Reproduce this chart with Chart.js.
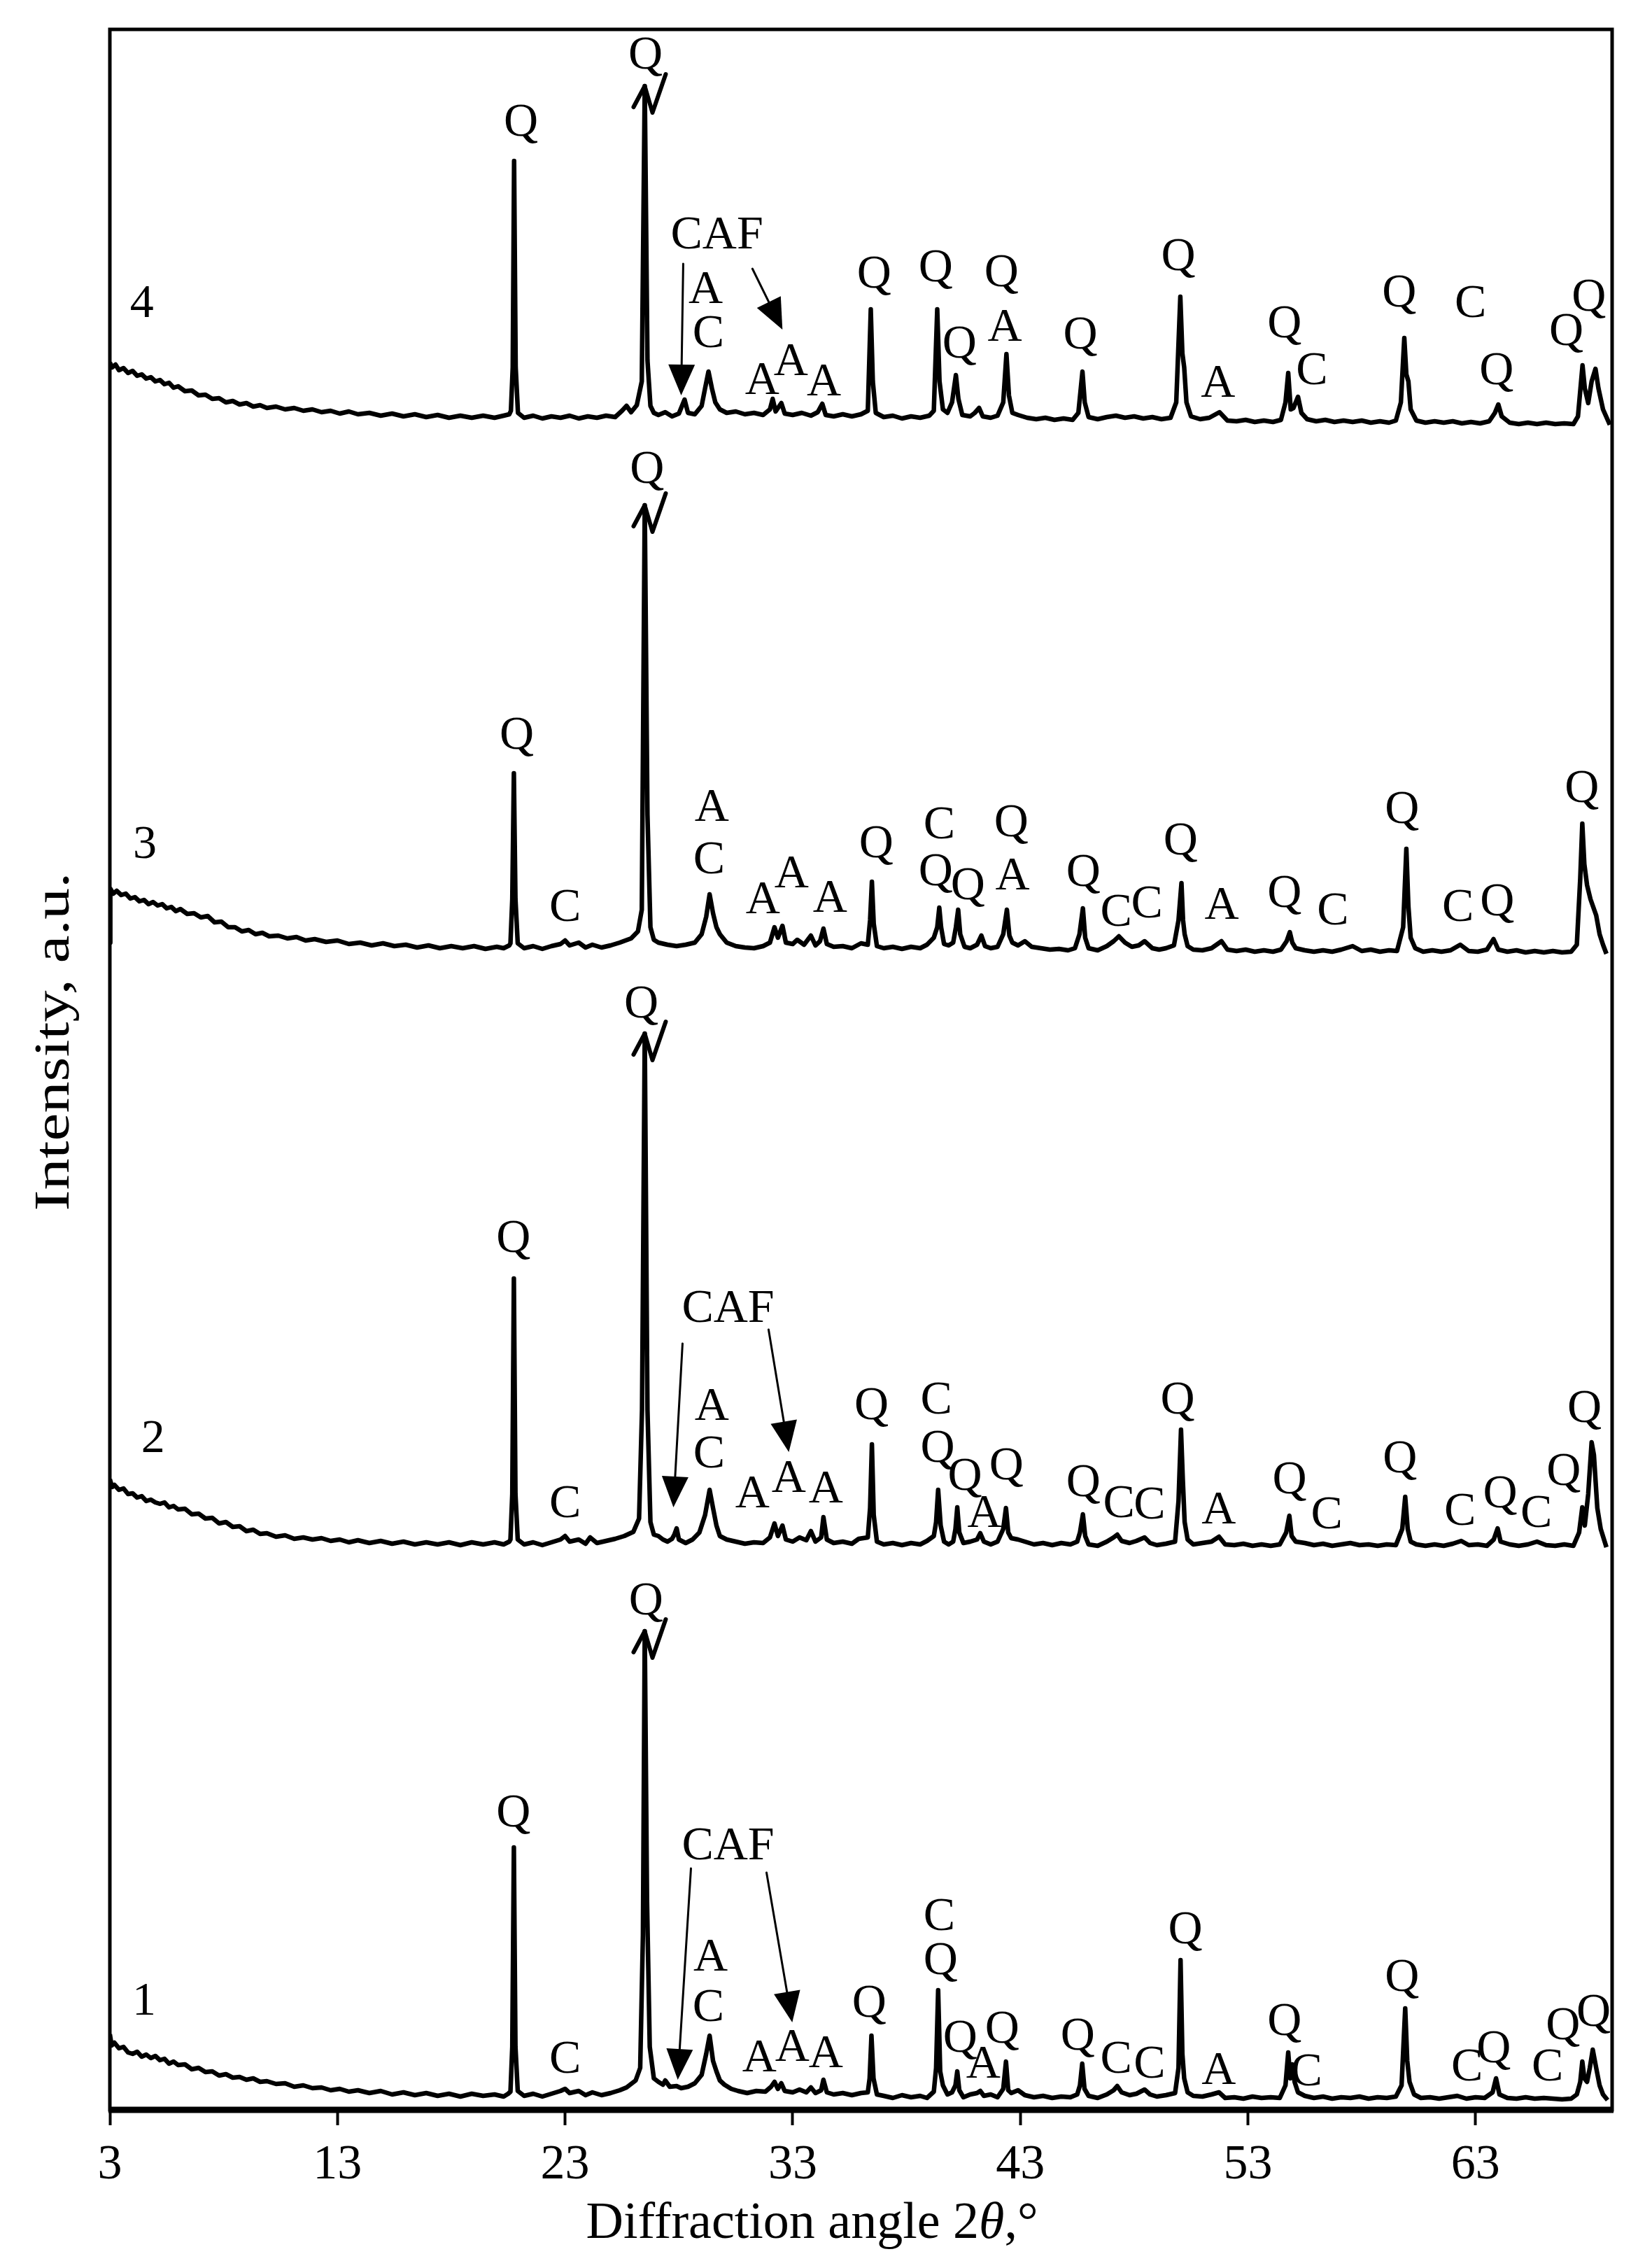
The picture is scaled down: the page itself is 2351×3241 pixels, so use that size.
<!DOCTYPE html>
<html>
<head>
<meta charset="utf-8">
<title>XRD patterns</title>
<script src="https://cdn.jsdelivr.net/npm/chart.js@4.4.0/dist/chart.umd.min.js"></script>
<style>
  body { margin: 0; background: #fff; }
  canvas { display: block; }
</style>
</head>
<body>
<canvas id="xrd" width="2351" height="3241"></canvas>
<script>
// x axis: diffraction angle 2theta, degrees
const tickValues = [3, 13, 23, 33, 43, 53, 63];

// patterns: [2theta, intensity a.u.] (curves already stacked)
const pattern1 = [
  [3.0,108],[3.08,92],[3.2,96],[3.4,88],[3.6,90],[3.8,82],[4.0,80],[4.2,83],[4.4,76],[4.6,79],[4.8,74],[5.0,77],
  [5.2,71],[5.4,73],[5.6,66],[5.8,69],[6.0,64],[6.3,65],[6.6,58],[6.9,60],[7.2,54],[7.5,55],[7.8,49],[8.1,51],
  [8.4,46],[8.7,47],[9.0,43],[9.3,45],[9.6,40],[9.9,41],[10.3,37],[10.7,38],[11.1,33],[11.5,35],[11.9,31],[12.3,32],
  [12.7,28],[13.1,30],[13.5,26],[13.9,28],[14.4,24],[14.9,27],[15.4,22],[15.9,25],[16.4,21],[16.9,24],[17.4,20],
  [17.9,23],[18.4,19],[18.9,23],[19.4,20],[19.9,22],[20.3,19],[20.5,23],
  [20.6,26],[20.68,90],[20.75,375],[20.82,90],[20.92,27],
  [21.2,20],[21.6,23],[22.0,19],[22.4,23],[22.8,27],[23.0,30],[23.2,24],[23.6,27],[23.9,21],[24.2,25],[24.6,21],
  [25.0,24],[25.4,28],[25.7,32],[26.1,42],[26.3,60],[26.42,250],[26.5,684],[26.6,300],[26.72,90],[26.9,45],
  [27.1,40],[27.3,36],[27.4,42],[27.6,33],[27.9,34],[28.1,31],[28.4,33],[28.7,38],[29.0,50],[29.2,80],[29.35,106],
  [29.5,70],[29.65,55],[29.8,42],[30.0,36],[30.3,30],[30.6,27],[31.0,24],[31.4,27],[31.8,26],[32.05,33],[32.2,40],
  [32.35,30],[32.5,38],[32.65,27],[33.0,25],[33.3,29],[33.6,25],[33.8,32],[34.0,24],[34.25,28],[34.35,43],[34.5,25],
  [34.8,22],[35.2,24],[35.6,21],[36.0,24],[36.3,25],[36.38,45],[36.46,106],[36.55,45],[36.7,22],
  [37.0,20],[37.4,17],[37.8,21],[38.2,18],[38.6,20],[38.9,17],[39.2,26],[39.3,60],[39.39,171],[39.48,55],[39.6,35],
  [39.8,22],[40.0,25],[40.15,35],[40.23,55],[40.32,28],[40.5,18],[40.8,22],[41.1,24],[41.24,27],[41.4,20],[41.7,22],
  [42.0,18],[42.25,30],[42.37,69],[42.47,28],[42.6,24],[42.9,28],[43.2,21],[43.6,18],[44.0,20],[44.4,17],[44.8,19],
  [45.2,18],[45.5,22],[45.62,35],[45.72,66],[45.82,30],[46.0,20],[46.4,17],[46.8,22],[47.1,28],[47.26,34],[47.45,25],
  [47.8,21],[48.1,23],[48.46,29],[48.7,22],[49.0,19],[49.4,21],[49.8,24],[49.95,60],[50.04,214],[50.12,80],[50.2,45],
  [50.35,25],[50.6,20],[51.0,19],[51.4,22],[51.73,25],[52.0,17],[52.4,18],[52.8,16],[53.2,19],[53.6,17],[54.0,18],
  [54.4,17],[54.65,35],[54.77,82],[54.86,45],[54.95,65],[55.05,40],[55.2,25],[55.5,20],[55.9,17],[56.3,19],[56.7,16],
  [57.1,18],[57.5,17],[57.9,19],[58.3,16],[58.7,18],[59.1,17],[59.5,19],[59.75,35],[59.91,145],[60.0,70],[60.1,40],
  [60.3,22],[60.6,17],[61.0,18],[61.4,16],[61.8,18],[62.2,20],[62.6,16],[63.0,18],[63.4,17],[63.75,25],[63.9,45],
  [64.05,22],[64.4,17],[64.8,16],[65.2,18],[65.6,16],[66.0,17],[66.4,16],[66.8,15],[67.2,16],[67.45,22],[67.6,40],
  [67.69,69],[67.78,45],[67.9,40],[68.02,60],[68.15,86],[68.3,60],[68.45,35],[68.6,22],[68.8,14]
];

const pattern2 = [
  [3.0,901],[3.1,890],[3.2,893],[3.4,886],[3.6,888],[3.8,880],[4.0,881],[4.2,875],[4.4,877],[4.6,870],[4.8,872],
  [5.0,868],[5.2,866],[5.4,868],[5.6,861],[5.8,863],[6.0,858],[6.3,859],[6.6,851],[6.9,852],[7.2,845],[7.5,846],
  [7.8,838],[8.1,840],[8.4,833],[8.7,834],[9.0,827],[9.3,829],[9.6,823],[9.9,824],[10.3,819],[10.7,821],[11.1,816],
  [11.5,818],[11.9,815],[12.3,817],[12.7,813],[13.1,815],[13.5,811],[13.9,814],[14.4,810],[14.9,813],[15.4,809],
  [15.9,812],[16.4,808],[16.9,811],[17.4,808],[17.9,811],[18.4,807],[18.9,811],[19.4,808],[19.9,811],[20.3,808],
  [20.55,812],[20.6,815],[20.68,880],[20.75,1188],[20.82,880],[20.92,815],
  [21.2,808],[21.6,811],[22.0,807],[22.4,811],[22.8,815],[23.0,820],[23.2,812],[23.6,815],[23.9,809],[24.1,818],
  [24.4,810],[24.8,813],[25.2,816],[25.6,820],[26.0,826],[26.25,845],[26.38,1000],[26.5,1538],[26.62,1000],
  [26.75,840],[26.9,822],[27.1,820],[27.3,815],[27.5,812],[27.7,816],[27.8,822],[27.9,831],[28.0,815],[28.3,810],
  [28.6,815],[28.9,825],[29.15,850],[29.35,886],[29.5,860],[29.65,835],[29.8,820],[30.1,815],[30.5,812],[30.9,809],
  [31.3,811],[31.7,810],[32.0,818],[32.2,838],[32.35,820],[32.55,835],[32.7,815],[33.0,812],[33.3,818],[33.6,814],
  [33.8,827],[34.0,812],[34.25,818],[34.35,847],[34.5,815],[34.8,810],[35.2,812],[35.6,809],[35.9,816],[36.3,818],
  [36.4,860],[36.48,951],[36.56,850],[36.7,812],[37.0,808],[37.4,810],[37.8,807],[38.2,810],[38.6,808],[38.9,813],
  [39.2,820],[39.3,840],[39.39,886],[39.5,835],[39.65,812],[39.85,808],[40.05,812],[40.15,830],[40.23,861],
  [40.32,825],[40.5,810],[40.8,812],[41.1,815],[41.24,824],[41.4,812],[41.7,808],[42.0,812],[42.25,830],[42.37,860],
  [42.47,825],[42.6,817],[42.9,815],[43.2,812],[43.6,808],[44.0,810],[44.4,807],[44.8,810],[45.2,808],[45.5,812],
  [45.62,825],[45.75,851],[45.85,820],[46.0,808],[46.4,806],[46.8,812],[47.1,818],[47.26,822],[47.45,813],[47.8,810],
  [48.1,813],[48.46,818],[48.7,810],[49.0,807],[49.4,809],[49.8,812],[49.95,870],[50.06,972],[50.14,900],[50.22,840],
  [50.35,815],[50.6,808],[51.0,810],[51.4,812],[51.73,819],[52.0,808],[52.4,807],[52.8,809],[53.2,806],[53.6,808],
  [54.0,806],[54.4,808],[54.68,825],[54.82,849],[54.92,820],[55.1,812],[55.5,810],[55.9,807],[56.3,809],[56.7,806],
  [57.1,808],[57.5,810],[57.9,807],[58.3,808],[58.7,806],[59.1,808],[59.5,807],[59.78,830],[59.91,876],[60.02,830],
  [60.15,812],[60.4,808],[60.8,806],[61.2,808],[61.6,806],[62.0,809],[62.37,813],[62.7,807],[63.1,808],[63.5,806],
  [63.8,815],[63.97,831],[64.1,812],[64.5,808],[64.9,806],[65.3,808],[65.7,812],[66.1,807],[66.5,806],[66.9,808],
  [67.3,806],[67.55,825],[67.69,861],[67.8,835],[67.95,880],[68.1,954],[68.2,936],[68.35,860],[68.5,830],[68.75,804]
];

const pattern3 = [
  [3.0,1668],[3.02,1745],[3.15,1738],[3.3,1742],[3.5,1736],[3.7,1738],[3.9,1731],[4.1,1733],[4.3,1727],[4.5,1729],
  [4.7,1723],[4.9,1726],[5.1,1721],[5.3,1723],[5.5,1717],[5.7,1719],[5.9,1713],[6.1,1716],[6.4,1709],[6.7,1710],
  [7.0,1704],[7.3,1706],[7.6,1697],[7.9,1698],[8.2,1690],[8.5,1690],[8.8,1684],[9.1,1686],[9.4,1680],[9.7,1682],
  [10.0,1677],[10.4,1678],[10.8,1674],[11.2,1676],[11.6,1671],[12.0,1673],[12.5,1669],[13.0,1671],[13.5,1666],
  [14.0,1668],[14.5,1664],[15.0,1667],[15.5,1663],[16.0,1665],[16.5,1661],[17.0,1664],[17.5,1660],[18.0,1663],
  [18.5,1660],[19.0,1663],[19.5,1659],[20.0,1662],[20.3,1660],[20.55,1664],
  [20.6,1667],[20.68,1730],[20.75,1910],[20.82,1730],[20.92,1667],
  [21.2,1660],[21.6,1663],[22.0,1659],[22.4,1663],[22.8,1666],[23.0,1671],[23.2,1664],[23.6,1668],[23.9,1661],
  [24.2,1665],[24.6,1661],[25.0,1664],[25.4,1668],[25.9,1674],[26.2,1684],[26.37,1715],[26.5,2293],[26.62,1850],
  [26.75,1690],[26.9,1672],[27.1,1668],[27.5,1665],[27.9,1663],[28.3,1665],[28.7,1668],[29.0,1680],[29.2,1705],
  [29.35,1737],[29.5,1710],[29.65,1690],[29.8,1680],[30.1,1668],[30.5,1663],[30.9,1661],[31.3,1660],[31.7,1663],
  [32.0,1668],[32.2,1690],[32.35,1675],[32.55,1692],[32.7,1668],[33.0,1666],[33.2,1672],[33.5,1665],[33.8,1678],
  [34.0,1664],[34.2,1670],[34.35,1688],[34.5,1666],[34.8,1662],[35.2,1663],[35.6,1660],[36.0,1667],[36.3,1665],
  [36.4,1700],[36.48,1755],[36.56,1695],[36.7,1663],[37.0,1660],[37.4,1662],[37.8,1659],[38.2,1662],[38.6,1660],
  [38.9,1665],[39.2,1675],[39.35,1690],[39.44,1718],[39.52,1690],[39.65,1666],[39.85,1664],[40.05,1668],[40.17,1690],
  [40.27,1715],[40.36,1680],[40.55,1662],[40.8,1660],[41.1,1665],[41.29,1678],[41.45,1663],[41.7,1660],[42.0,1662],
  [42.25,1680],[42.41,1715],[42.52,1678],[42.65,1668],[42.9,1664],[43.2,1670],[43.5,1662],[43.9,1660],[44.3,1658],
  [44.7,1659],[45.1,1657],[45.4,1660],[45.6,1680],[45.75,1717],[45.85,1675],[46.0,1660],[46.4,1657],[46.8,1663],
  [47.1,1670],[47.33,1677],[47.6,1668],[47.9,1662],[48.2,1664],[48.46,1670],[48.8,1660],[49.1,1658],[49.4,1660],
  [49.75,1664],[49.95,1700],[50.08,1753],[50.15,1700],[50.22,1680],[50.35,1663],[50.6,1658],[51.0,1657],[51.4,1660],
  [51.84,1670],[52.1,1658],[52.5,1656],[52.9,1658],[53.3,1655],[53.7,1657],[54.1,1655],[54.45,1658],[54.7,1670],
  [54.84,1683],[54.95,1668],[55.1,1660],[55.5,1657],[55.9,1655],[56.3,1657],[56.7,1655],[57.1,1658],[57.6,1663],
  [58.0,1656],[58.4,1658],[58.8,1655],[59.2,1657],[59.55,1656],[59.82,1690],[59.96,1802],[60.05,1720],[60.15,1675],
  [60.35,1660],[60.7,1655],[61.1,1657],[61.5,1655],[61.9,1657],[62.33,1665],[62.7,1656],[63.1,1655],[63.5,1658],
  [63.79,1673],[64.0,1658],[64.4,1655],[64.8,1657],[65.2,1654],[65.6,1656],[66.0,1654],[66.4,1656],[66.8,1654],
  [67.2,1655],[67.45,1665],[67.6,1760],[67.69,1838],[67.78,1780],[67.9,1750],[68.05,1730],[68.3,1707],[68.45,1680],
  [68.6,1665],[68.75,1652]
];

const pattern4 = [
  [3.0,2497],[3.1,2490],[3.25,2494],[3.4,2486],[3.6,2489],[3.8,2482],[4.0,2485],[4.2,2478],[4.4,2480],[4.6,2474],
  [4.8,2476],[5.0,2470],[5.2,2472],[5.4,2466],[5.6,2468],[5.8,2461],[6.0,2463],[6.3,2456],[6.6,2457],[6.9,2450],
  [7.2,2451],[7.5,2445],[7.8,2446],[8.1,2440],[8.4,2442],[8.7,2437],[9.0,2439],[9.3,2434],[9.6,2436],[9.9,2432],
  [10.3,2434],[10.7,2430],[11.1,2432],[11.5,2428],[11.9,2430],[12.3,2426],[12.7,2428],[13.1,2424],[13.5,2427],
  [13.9,2423],[14.4,2425],[14.9,2421],[15.4,2424],[15.9,2420],[16.4,2423],[16.9,2419],[17.4,2422],[17.9,2418],
  [18.4,2421],[18.9,2418],[19.4,2421],[19.9,2418],[20.3,2421],[20.55,2423],
  [20.62,2428],[20.7,2490],[20.76,2785],[20.83,2490],[20.93,2425],
  [21.2,2418],[21.6,2421],[22.0,2417],[22.4,2420],[22.8,2418],[23.2,2421],[23.6,2417],[24.0,2420],[24.4,2418],
  [24.8,2421],[25.2,2419],[25.5,2428],[25.7,2435],[25.9,2426],[26.15,2436],[26.37,2470],[26.5,2892],[26.62,2500],
  [26.75,2435],[26.9,2425],[27.1,2422],[27.4,2426],[27.7,2420],[28.0,2424],[28.15,2436],[28.25,2444],[28.4,2425],
  [28.7,2423],[29.0,2435],[29.15,2460],[29.3,2484],[29.45,2460],[29.6,2440],[29.8,2430],[30.1,2425],[30.5,2427],
  [30.9,2423],[31.3,2425],[31.7,2422],[32.0,2430],[32.12,2445],[32.25,2427],[32.5,2439],[32.65,2424],[33.0,2422],
  [33.4,2425],[33.8,2421],[34.1,2426],[34.3,2438],[34.45,2422],[34.8,2420],[35.2,2423],[35.6,2420],[36.0,2423],
  [36.3,2428],[36.43,2573],[36.52,2470],[36.65,2425],[37.0,2419],[37.4,2421],[37.8,2417],[38.2,2420],[38.6,2418],
  [39.0,2421],[39.2,2428],[39.35,2573],[39.45,2470],[39.6,2430],[39.8,2425],[40.0,2440],[40.17,2479],[40.28,2445],
  [40.45,2422],[40.8,2420],[41.0,2425],[41.19,2432],[41.35,2420],[41.7,2418],[42.0,2421],[42.25,2440],[42.39,2509],
  [42.5,2450],[42.65,2425],[42.9,2422],[43.3,2418],[43.7,2416],[44.1,2418],[44.5,2415],[44.9,2417],[45.3,2415],
  [45.55,2425],[45.73,2484],[45.83,2440],[46.0,2419],[46.4,2416],[46.8,2419],[47.2,2421],[47.6,2418],[48.0,2420],
  [48.4,2417],[48.8,2419],[49.2,2416],[49.6,2418],[49.85,2440],[50.03,2591],[50.12,2510],[50.2,2490],[50.3,2440],
  [50.5,2420],[50.9,2416],[51.3,2418],[51.75,2426],[52.1,2414],[52.5,2413],[52.9,2415],[53.3,2412],[53.7,2414],
  [54.1,2412],[54.45,2415],[54.65,2440],[54.77,2482],[54.88,2430],[55.0,2432],[55.2,2448],[55.35,2425],[55.6,2416],
  [56.0,2413],[56.4,2415],[56.8,2412],[57.2,2414],[57.6,2412],[58.0,2414],[58.4,2411],[58.8,2413],[59.2,2411],
  [59.5,2414],[59.72,2440],[59.87,2532],[59.96,2480],[60.05,2470],[60.15,2430],[60.4,2414],[60.8,2411],[61.2,2413],
  [61.6,2411],[62.0,2413],[62.4,2410],[62.8,2412],[63.2,2410],[63.6,2413],[63.85,2425],[64.0,2437],[64.15,2420],
  [64.5,2411],[64.9,2409],[65.3,2411],[65.7,2409],[66.1,2411],[66.5,2409],[66.9,2410],[67.3,2409],[67.5,2420],
  [67.7,2493],[67.8,2460],[67.95,2439],[68.1,2470],[68.27,2488],[68.4,2460],[68.6,2430],[68.9,2408]
];

const patterns = [pattern1, pattern2, pattern3, pattern4];

// phase marks: [text, 2theta, intensity]
const labels1 = [
  ['1',4.51,154],['Q',20.73,423],['Q',26.56,726],['C',23.0,71],['CAF',30.16,376],['A',29.39,217],['C',29.3,145],
  ['A',31.54,73],['A',32.98,88],['A',34.46,79],['Q',36.36,151],['C',39.44,275],['Q',39.5,212],['Q',40.36,101],
  ['A',41.37,64],['Q',42.2,114],['Q',45.52,104],['C',47.21,71],['C',48.68,64],['Q',50.25,256],['A',51.72,55],
  ['Q',54.61,125],['C',55.57,53],['Q',59.77,188],['C',62.63,60],['Q',63.8,86],['C',66.16,60],['Q',66.84,119],
  ['Q',68.19,138]
];
const labels2 = [
  ['2',4.9,958],['Q',20.73,1244],['Q',26.35,1579],['C',23.0,865],['CAF',30.16,1144],['A',29.45,1004],['C',29.33,936],
  ['A',31.23,879],['A',32.83,901],['A',34.46,886],['Q',36.46,1005],['C',39.31,1013],['Q',39.37,944],['Q',40.57,904],
  ['A',41.43,851],['Q',42.39,919],['Q',45.77,895],['C',47.33,865],['C',48.68,863],['Q',49.91,1013],['A',51.72,856],
  ['Q',54.83,899],['C',56.46,849],['Q',59.68,929],['C',62.32,854],['Q',64.08,879],['C',65.67,851],['Q',66.87,911],
  ['Q',67.79,1001]
];
const labels3 = [
  ['3',4.54,1807],['Q',20.88,1963],['Q',26.6,2343],['C',23.0,1717],['A',29.45,1860],['C',29.33,1785],['A',31.69,1728],
  ['A',32.95,1765],['A',34.64,1730],['Q',36.67,1808],['C',39.44,1835],['Q',39.28,1768],['Q',40.7,1748],['Q',42.6,1838],
  ['A',42.66,1762],['Q',45.77,1767],['C',47.21,1710],['C',48.56,1722],['Q',50.04,1812],['A',51.85,1720],
  ['Q',54.61,1737],['C',56.73,1712],['Q',59.77,1857],['C',62.23,1717],['Q',63.95,1725],['Q',67.67,1887]
];
const labels4 = [
  ['4',4.41,2580],['Q',21.06,2839],['Q',26.53,2935],['CAF',29.67,2678],['A',29.18,2600],['C',29.3,2537],
  ['A',31.66,2470],['A',32.92,2497],['A',34.37,2468],['Q',36.58,2622],['Q',39.28,2631],['Q',40.33,2522],
  ['Q',42.17,2624],['A',42.32,2546],['Q',45.64,2535],['Q',49.94,2647],['A',51.69,2466],['Q',54.61,2551],
  ['C',55.81,2484],['Q',59.65,2595],['C',62.78,2580],['Q',63.92,2484],['Q',66.99,2540],['Q',67.98,2589]
];

// CAF arrows: [from 2theta, from intensity, to 2theta, to intensity]
const cafArrows = [
  [28.53,345,27.95,43],[31.85,339,32.98,125],
  [28.16,1095,27.76,861],[31.94,1115,32.83,940],
  [28.19,2638,28.1,2450],[31.23,2631,32.55,2544]
];

const FONT = '"Liberation Serif", "Times New Roman", serif';

const overlay = {
  id: 'overlay',
  afterDraw(chart) {
    const {ctx, chartArea: a} = chart;
    const xs = chart.scales.x, ys = chart.scales.y;
    const px = v => xs.getPixelForValue(v);
    const py = v => ys.getPixelForValue(v);
    ctx.save();
    ctx.strokeStyle = '#000';
    ctx.fillStyle = '#000';

    // frame, bottom axis heavier
    ctx.lineWidth = 5;
    ctx.strokeRect(a.left, a.top, a.right - a.left, a.bottom - a.top);
    ctx.lineWidth = 9;
    ctx.beginPath();
    ctx.moveTo(a.left - 2, a.bottom);
    ctx.lineTo(a.right + 2, a.bottom);
    ctx.stroke();

    // break marks on top of the cut 26.6 deg quartz peak
    ctx.lineWidth = 6;
    ctx.lineJoin = 'round';
    ctx.lineCap = 'round';
    patterns.forEach(p => {
      const top = p.reduce((m, d) => (d[1] > m[1] ? d : m));
      const x0 = px(top[0]), y0 = py(top[1]);
      ctx.beginPath();
      ctx.moveTo(x0 - 16, y0 + 30);
      ctx.lineTo(x0, y0);
      ctx.lineTo(x0 + 11, y0 + 38);
      ctx.lineTo(x0 + 30, y0 - 17);
      ctx.stroke();
    });

    // phase letters
    ctx.font = '68px ' + FONT;
    ctx.textAlign = 'center';
    ctx.textBaseline = 'middle';
    [labels1, labels2, labels3, labels4].forEach(list => {
      list.forEach(([t, x, y]) => ctx.fillText(t, px(x), py(y)));
    });

    // arrows
    ctx.lineWidth = 3;
    cafArrows.forEach(([x1, y1, x2, y2]) => {
      const sx = px(x1), sy = py(y1), ex = px(x2), ey = py(y2);
      const ang = Math.atan2(ey - sy, ex - sx);
      const hl = 44, hw = 19;
      const bx = ex - hl * Math.cos(ang), by = ey - hl * Math.sin(ang);
      ctx.beginPath();
      ctx.moveTo(sx, sy);
      ctx.lineTo(bx, by);
      ctx.stroke();
      ctx.beginPath();
      ctx.moveTo(ex, ey);
      ctx.lineTo(bx + hw * Math.sin(ang), by - hw * Math.cos(ang));
      ctx.lineTo(bx - hw * Math.sin(ang), by + hw * Math.cos(ang));
      ctx.closePath();
      ctx.fill();
    });

    // x title with italic theta
    const parts = [['Diffraction angle 2', ''], ['\u03b8', 'italic '], [',\u00b0', '']];
    ctx.textAlign = 'left';
    ctx.textBaseline = 'alphabetic';
    let total = 0;
    parts.forEach(([t, st]) => { ctx.font = st + '74px ' + FONT; total += ctx.measureText(t).width; });
    let cx = (a.left + a.right) / 2 - 70 - total / 2;
    parts.forEach(([t, st]) => {
      ctx.font = st + '74px ' + FONT;
      ctx.fillText(t, cx, 3198);
      cx += ctx.measureText(t).width;
    });

    // y title, stretched along its length like the source figure
    ctx.translate(79, (a.top + a.bottom) / 2 - 40);
    ctx.rotate(-Math.PI / 2);
    ctx.scale(1.25, 1);
    ctx.textAlign = 'center';
    ctx.textBaseline = 'middle';
    ctx.font = '72px ' + FONT;
    ctx.fillText('Intensity, a.u.', 0, 0);
    ctx.restore();
  }
};

const datasets = patterns.map(p => ({
  data: p.map(([x, y]) => ({x, y})),
  borderColor: '#000',
  borderWidth: 6.5,
  borderJoinStyle: 'round',
  pointRadius: 0,
  tension: 0,
  fill: false
}));

new Chart(document.getElementById('xrd'), {
  type: 'line',
  data: {datasets},
  options: {
    responsive: false,
    devicePixelRatio: 1,
    animation: false,
    layout: {padding: {left: 157, right: 47, top: 42, bottom: 88}},
    plugins: {legend: {display: false}, tooltip: {enabled: false}},
    scales: {
      x: {
        type: 'linear',
        min: 3,
        max: 69,
        afterBuildTicks: axis => { axis.ticks = tickValues.map(v => ({value: v})); },
        grid: {display: true, drawOnChartArea: false, drawTicks: true, tickLength: 22, tickWidth: 4, tickColor: '#000'},
        border: {display: false},
        ticks: {color: '#000', padding: 16, maxRotation: 0, autoSkip: false, font: {family: FONT, size: 70}}
      },
      y: {
        display: false,
        min: 0,
        max: 2973
      }
    }
  },
  plugins: [overlay]
});
</script>
</body>
</html>
